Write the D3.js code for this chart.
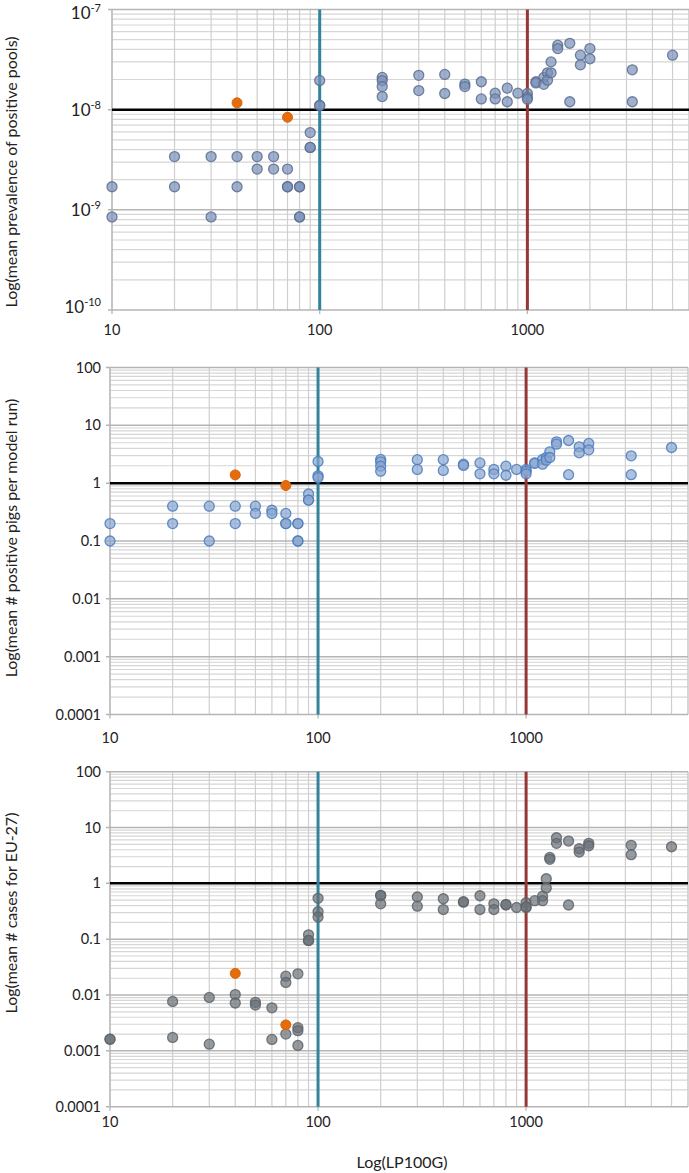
<!DOCTYPE html>
<html><head><meta charset="utf-8">
<script src="https://cdn.jsdelivr.net/npm/d3@7"></script>
<style>
html,body{margin:0;padding:0;background:#fff;}
svg{display:block;font-family:Lato,"Open Sans","Noto Sans",sans-serif;}
</style></head>
<body>
<svg id="chart" width="689" height="1173"></svg>
<script>
// ---------- data ----------
const xTickLabels = ["10", "100", "1000"];
const xTickValues = [10, 100, 1000];

// Panel 1: mean prevalence of positive pools
const p1X = [10,10,20,20,30,30,40,40,50,50,60,60,70,70,70,80,80,80,80,90,90,90,100,100,100,
  200,200,200,200,300,300,400,400,500,500,600,600,700,700,800,800,900,1000,1000,1000,
  1100,1100,1200,1200,1250,1250,1300,1300,1400,1400,1600,1600,1800,1800,2000,2000,3200,3200,5000];
const p1Y = [1.7e-9,8.5e-10,3.4e-9,1.7e-9,3.4e-9,8.5e-10,3.4e-9,1.7e-9,3.4e-9,2.55e-9,3.4e-9,2.55e-9,
  2.55e-9,1.7e-9,1.7e-9,1.7e-9,1.7e-9,8.5e-10,8.5e-10,5.9e-9,4.2e-9,4.2e-9,1.96e-8,1.1e-8,1.1e-8,
  2.1e-8,1.95e-8,1.7e-8,1.35e-8,2.2e-8,1.55e-8,2.25e-8,1.45e-8,1.8e-8,1.7e-8,1.9e-8,1.28e-8,
  1.46e-8,1.28e-8,1.64e-8,1.2e-8,1.46e-8,1.45e-8,1.33e-8,1.27e-8,1.9e-8,1.85e-8,2.1e-8,1.79e-8,
  2.33e-8,1.97e-8,3.0e-8,2.33e-8,4.4e-8,4.07e-8,4.6e-8,1.2e-8,3.5e-8,2.8e-8,4.07e-8,3.22e-8,
  2.5e-8,1.2e-8,3.5e-8];
const p1OrangeX = [40, 70];
const p1OrangeY = [1.17e-8, 8.4e-9];
const p1YTicks = ["-7", "-8", "-9", "-10"];

// Panel 2: mean # positive pigs per model run
const p2X = p1X;
const p2Y = [0.2,0.1,0.4,0.2,0.4,0.1,0.4,0.2,0.4,0.3,0.34,0.3,0.3,0.2,0.2,0.2,0.2,0.1,0.1,0.65,0.51,0.51,
  2.37,1.34,1.25,2.57,2.34,1.97,1.61,2.55,1.73,2.55,1.66,2.13,2.03,2.24,1.45,1.73,1.45,1.97,1.37,
  1.73,1.73,1.6,1.45,2.24,2.2,2.57,2.13,2.78,2.5,3.48,2.78,5.19,4.73,5.47,1.4,4.25,3.34,4.86,3.77,
  2.97,1.4,4.14];
const p2OrangeX = [40, 70];
const p2OrangeY = [1.39, 0.91];
const p2YTicks = ["100", "10", "1", "0.1", "0.01", "0.001", "0.0001"];

// Panel 3: mean # cases for EU-27
const p3X = [10,10,20,20,30,30,40,40,50,50,60,60,70,70,70,80,80,80,80,90,90,90,100,100,100,
  200,200,200,300,300,400,400,500,500,600,600,700,700,800,800,900,1000,1000,1000,
  1100,1200,1200,1250,1250,1300,1300,1400,1400,1600,1600,1800,1800,2000,2000,3200,3200,5000];
const p3Y = [0.00162,0.00162,0.00767,0.00174,0.00906,0.00132,0.0102,0.0072,0.0074,0.0066,0.0059,0.0016,
  0.0218,0.0168,0.002,0.024,0.0026,0.0023,0.00125,0.12,0.095,0.095,0.54,0.31,0.25,
  0.61,0.6,0.43,0.57,0.39,0.53,0.34,0.46,0.47,0.6,0.34,0.43,0.34,0.41,0.42,0.37,0.45,0.37,0.38,
  0.49,0.59,0.49,1.21,0.83,2.92,2.7,6.56,5.21,5.73,0.41,4.17,3.64,5.21,4.72,4.8,3.26,4.53];
const p3OrangeX = [40, 70];
const p3OrangeY = [0.0244, 0.00292];
const p3YTicks = ["100", "10", "1", "0.1", "0.01", "0.001", "0.0001"];

const yTitles = ["Log(mean prevalence of positive pools)",
                 "Log(mean # positive pigs per model run)",
                 "Log(mean # cases for EU-27)"];
const xTitle = "Log(LP100G)";
const vLines = [100, 1000];
const hLines = [1e-8, 1, 1];

// ---------- layout ----------
const svg = d3.select("#chart");
const panels = [
  {left:112, right:689, top:9.5, bottom:310, ymin:1e-10, ymax:1e-7, xs:p1X, ys:p1Y, ox:p1OrangeX, oy:p1OrangeY,
   fill:"#7890BA", stroke:"#5E6F8E", xLabY:335, title:yTitles[0], titleY:172, h:hLines[0], sup:true},
  {left:110, right:688, top:367.5, bottom:714.5, ymin:1e-4, ymax:100, xs:p2X, ys:p2Y, ox:p2OrangeX, oy:p2OrangeY,
   fill:"#8AA5CF", stroke:"#4A7CC0", xLabY:743, title:yTitles[1], titleY:538, h:hLines[1], labels:p2YTicks},
  {left:110, right:688, top:771.7, bottom:1106.7, ymin:1e-4, ymax:100, xs:p3X, ys:p3Y, ox:p3OrangeX, oy:p3OrangeY,
   fill:"#6A7078", stroke:"#5F646B", xLabY:1127, title:yTitles[2], titleY:913, h:hLines[2], labels:p3YTicks}
];

panels.forEach((p, pi) => {
  const x = d3.scaleLog().domain([10, 6000]).range([p.left, p.right]);
  const y = d3.scaleLog().domain([p.ymin, p.ymax]).range([p.bottom, p.top]);
  const g = svg.append("g");

  // minor grid
  const xMinor = [];
  for (let d = 10; d <= 1000; d *= 10) for (let k = 1; k <= 9; k++) if (d*k <= 6000) xMinor.push(d*k);
  xMinor.push(6000);
  const yMinor = [];
  for (let e = Math.round(Math.log10(p.ymin)); e < Math.round(Math.log10(p.ymax)); e++)
    for (let k = 2; k <= 9; k++) yMinor.push(k * Math.pow(10, e));
  g.selectAll(".hm").data(yMinor).join("line")
    .attr("x1", p.left).attr("x2", p.right)
    .attr("y1", d => y(d)).attr("y2", d => y(d))
    .attr("stroke", "#d6d6d6").attr("stroke-width", 1.2);
  g.selectAll(".vm").data(xMinor).join("line")
    .attr("x1", d => x(d)).attr("x2", d => x(d))
    .attr("y1", p.top).attr("y2", p.bottom)
    .attr("stroke", "#cfcfcf").attr("stroke-width", 1.2);
  // major horizontal
  const yMajor = [];
  for (let e = Math.round(Math.log10(p.ymin)); e <= Math.round(Math.log10(p.ymax)); e++) yMajor.push(Math.pow(10, e));
  g.selectAll(".hM").data(yMajor).join("line")
    .attr("x1", p.left - 4).attr("x2", p.right)
    .attr("y1", d => y(d)).attr("y2", d => y(d))
    .attr("stroke", "#b5b5b5").attr("stroke-width", 1.5);
  g.selectAll(".vM").data(xTickValues).join("line")
    .attr("x1", d => x(d)).attr("x2", d => x(d))
    .attr("y1", p.top).attr("y2", p.bottom + 4)
    .attr("stroke", "#b5b5b5").attr("stroke-width", 1.3);

  // reference lines
  g.append("line").attr("x1", p.left).attr("x2", p.right)
    .attr("y1", y(p.h)).attr("y2", y(p.h)).attr("stroke", "#000").attr("stroke-width", 2.5);
  g.append("line").attr("x1", x(vLines[0])).attr("x2", x(vLines[0]))
    .attr("y1", p.top).attr("y2", p.bottom).attr("stroke", "#31849B").attr("stroke-width", 3);
  g.append("line").attr("x1", x(vLines[1])).attr("x2", x(vLines[1]))
    .attr("y1", p.top).attr("y2", p.bottom).attr("stroke", "#953735").attr("stroke-width", 3);

  // points
  const pts = p.xs.map((v, i) => ({x: v, y: p.ys[i]}));
  g.selectAll(".pt").data(pts).join("circle")
    .attr("cx", d => x(d.x)).attr("cy", d => y(d.y)).attr("r", 5)
    .attr("fill", p.fill).attr("fill-opacity", 0.7)
    .attr("stroke", p.stroke).attr("stroke-opacity", 0.85).attr("stroke-width", 1.3);
  const opts = p.ox.map((v, i) => ({x: v, y: p.oy[i]}));
  g.selectAll(".opt").data(opts).join("circle")
    .attr("cx", d => x(d.x)).attr("cy", d => y(d.y)).attr("r", 5)
    .attr("fill", "#E46C0A").attr("stroke", "#D8650C").attr("stroke-width", 1);

  // y tick labels
  const yl = g.append("g").attr("font-size", p.sup ? 17 : 14.5).attr("fill", "#222").attr("text-anchor", "end");
  const n = yMajor.length;
  yMajor.slice().reverse().forEach((v, i) => {
    const t = yl.append("text").attr("x", 101).attr("y", y(v) + 5);
    if (p.sup) {
      const off = i === 0 ? 9 : (i === n - 1 ? 2.5 : 6.5);
      t.attr("y", y(v) + off);
      t.append("tspan").text("10");
      t.append("tspan").attr("font-size", 11).attr("dy", -7).text(p1YTicks[i]);
    } else {
      t.text(p.labels[i]);
    }
  });

  // x tick labels
  g.selectAll(".xl").data(xTickValues).join("text")
    .attr("x", d => x(d)).attr("y", p.xLabY)
    .attr("text-anchor", "middle").attr("font-size", 14.5).attr("fill", "#222")
    .text((d, i) => xTickLabels[i]);

  // y title
  g.append("text").attr("transform", `translate(17,${p.titleY}) rotate(-90)`)
    .attr("text-anchor", "middle").attr("font-size", 16).attr("fill", "#222")
    .text(p.title);
});

svg.append("text").attr("x", 402).attr("y", 1168).attr("text-anchor", "middle")
  .attr("font-size", 16).attr("fill", "#222").text(xTitle);
</script>
</body></html>
